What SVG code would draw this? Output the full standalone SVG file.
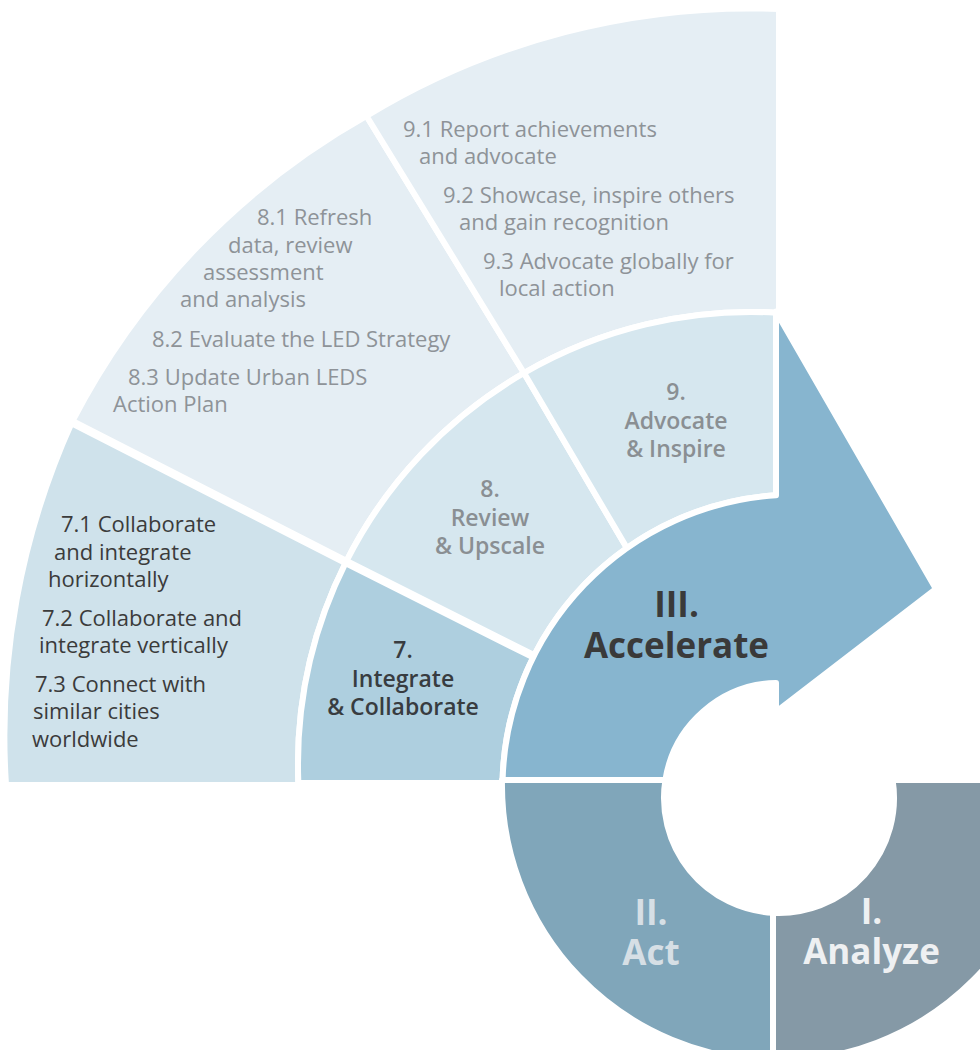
<svg xmlns="http://www.w3.org/2000/svg" width="980" height="1050" viewBox="0 0 980 1050">
<style>
.seg{stroke:#fff;stroke-width:6;stroke-linejoin:round}
.f7x{fill:#cfe2eb}
.f89x{fill:#e5eef4}
.f7{fill:#aecfdf}
.f89{fill:#d6e7ef}
.fac{fill:#87b5cf}
.fact{fill:#80a6ba}
.fan{fill:#8599a6}
text{font-family:"Open Sans","Liberation Sans",sans-serif}
.item{font-size:22px}
.dk{fill:#3b3b3b}
.lt{fill:#8e9398}
.lbl{font-size:23px;font-weight:600;text-anchor:middle}
.big{font-size:35px;font-weight:700;text-anchor:middle}
</style>
<rect width="980" height="1050" fill="#fff"/>

<g id="steps-7-items">
<path class="seg f7x" d="M6,785 A760,760 0 0 1 72,422 L346,562 A453,453 0 0 0 298.25,780 L298.4,785 Z"/>
<text class="item dk"><tspan x="61" y="532">7.1 Collaborate</tspan><tspan x="54" y="560">and integrate</tspan><tspan x="48" y="587">horizontally</tspan><tspan x="42" y="626">7.2 Collaborate and</tspan><tspan x="39" y="653">integrate vertically</tspan><tspan x="35" y="692">7.3 Connect with</tspan><tspan x="33" y="719">similar cities</tspan><tspan x="32" y="747">worldwide</tspan></text>
</g>

<g id="steps-8-items">
<path class="seg f89x" d="M72,422 A740,740 0 0 1 366.5,116 L524,373 A453,453 0 0 0 346,562 Z"/>
<text class="item lt"><tspan x="257" y="225">8.1 Refresh</tspan><tspan x="228" y="253">data, review</tspan><tspan x="203" y="280">assessment</tspan><tspan x="180" y="307">and analysis</tspan><tspan x="152" y="347">8.2 Evaluate the LED Strategy</tspan><tspan x="128" y="385">8.3 Update Urban LEDS</tspan><tspan x="113" y="412">Action Plan</tspan></text>
</g>

<g id="steps-9-items">
<path class="seg f89x" d="M366.5,116 A740,740 0 0 1 779,9 L779,312.9 A453,453 0 0 0 524,373 Z"/>
<text class="item lt"><tspan x="403" y="137">9.1 Report achievements</tspan><tspan x="419" y="164">and advocate</tspan><tspan x="443" y="203">9.2 Showcase, inspire others</tspan><tspan x="459" y="230">and gain recognition</tspan><tspan x="483" y="269">9.3 Advocate globally for</tspan><tspan x="499" y="296">local action</tspan></text>
</g>

<g id="step-7">
<path class="seg f7" d="M298.4,783 L298.25,780 A453,453 0 0 1 346,562 L533.7,656.3 A293.5,293.5 0 0 0 502.5,783 Z"/>
<text class="lbl" fill="#383c40"><tspan x="403" y="658">7.</tspan><tspan x="403" y="686.5">Integrate</tspan><tspan x="403" y="715">&amp; Collaborate</tspan></text>
</g>

<g id="step-8">
<path class="seg f89" d="M346,562 A453,453 0 0 1 524,373 L626.9,548.1 A293.5,293.5 0 0 0 533.7,656.3 Z"/>
<text class="lbl" fill="#8a8f93"><tspan x="490" y="497">8.</tspan><tspan x="490" y="525.5">Review</tspan><tspan x="490" y="554">&amp; Upscale</tspan></text>
</g>

<g id="step-9">
<path class="seg f89" d="M524,373 A453,453 0 0 1 776.5,312.7 L776.5,495.2 A293.5,293.5 0 0 0 626.9,548.1 Z"/>
<text class="lbl" fill="#8a8f93"><tspan x="676" y="400">9.</tspan><tspan x="676" y="428.5">Advocate</tspan><tspan x="676" y="457">&amp; Inspire</tspan></text>
</g>

<g id="dividers">
<polyline points="62,417 346,562 533.7,656.3" fill="none" stroke="#fff" stroke-width="8.5"/>
</g>

<g id="phase-accelerate">
<path class="seg fac" d="M502.6,780 A293.5,293.5 0 0 1 776,495.2 L776,311.5 L936,589 L776,712 L776,683 A115,115 0 0 0 665.4,780 Z"/>
<text class="big" fill="#3a3a3a"><tspan x="676.5" y="617">III.</tspan><tspan x="676.5" y="658">Accelerate</tspan></text>
</g>

<g id="phase-act">
<path class="seg fact" d="M502,780 L665.4,780 A115,115 0 0 0 773,912.8 L773,1061 A276,276 0 0 1 502,780 Z"/>
<text class="big" fill="#d6dfe5"><tspan x="651" y="925">II.</tspan><tspan x="651" y="965">Act</tspan></text>
</g>

<g id="phase-analyze">
<path class="seg fan" d="M773,912.8 A115,115 0 0 0 892.6,780 L1054,780 A276,276 0 0 1 773,1061 Z"/>
<text class="big" fill="#eef0f2"><tspan x="871.5" y="924">I.</tspan><tspan x="871.5" y="964">Analyze</tspan></text>
</g>

<g id="connectors"/>
</svg>
